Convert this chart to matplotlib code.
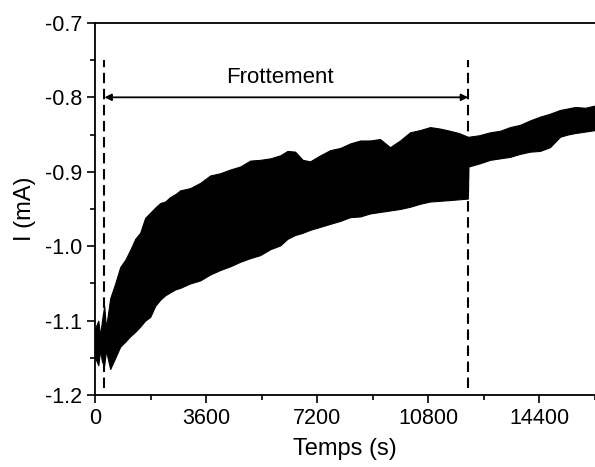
import numpy as np
import matplotlib.pyplot as plt
from matplotlib.ticker import MultipleLocator

plt.rcParams['font.family'] = ['Liberation Sans', 'DejaVu Sans']

# envelope of the oscillating current
t_env = [0, 100, 160, 220, 292, 350, 486, 650, 811, 980, 1135, 1300, 1459, 1620, 1784,
         1950, 2108, 2270, 2432, 2600, 2757, 3080, 3405, 3730, 4054, 4380, 4702, 5030,
         5351, 5680, 6000, 6240, 6486, 6730, 6972, 7300, 7621, 7950, 8270, 8600, 8918,
         9240, 9567, 9890, 10215, 10540, 10864, 11190, 11513, 11800, 12090, 12110, 12450,
         12810, 13130, 13459, 13780, 14108, 14430, 14756, 15080, 15330, 15567, 15900, 16216]
i_upper = [-1.11, -1.10, -1.12, -1.10, -1.08, -1.11, -1.07, -1.05, -1.028, -1.018, -1.005,
           -0.99, -0.982, -0.962, -0.955, -0.948, -0.942, -0.94, -0.934, -0.93, -0.925,
           -0.922, -0.915, -0.905, -0.902, -0.897, -0.893, -0.885, -0.884, -0.882, -0.878,
           -0.872, -0.873, -0.884, -0.886, -0.878, -0.871, -0.868, -0.862, -0.858, -0.858,
           -0.856, -0.867, -0.858, -0.847, -0.844, -0.840, -0.842, -0.845, -0.848, -0.853,
           -0.853, -0.851, -0.847, -0.845, -0.840, -0.837, -0.831, -0.826, -0.822, -0.817,
           -0.815, -0.813, -0.814, -0.811]
i_lower = [-1.15, -1.16, -1.14, -1.155, -1.16, -1.14, -1.165, -1.15, -1.135, -1.128, -1.121,
           -1.115, -1.108, -1.10, -1.095, -1.08, -1.072, -1.066, -1.062, -1.058, -1.056,
           -1.05, -1.046, -1.038, -1.032, -1.027, -1.021, -1.016, -1.012, -1.004, -0.999,
           -0.99, -0.985, -0.982, -0.978, -0.974, -0.970, -0.966, -0.961, -0.960, -0.956,
           -0.954, -0.952, -0.950, -0.947, -0.943, -0.940, -0.939, -0.938, -0.937, -0.936,
           -0.893, -0.889, -0.884, -0.882, -0.880, -0.876, -0.873, -0.872, -0.867, -0.853,
           -0.850, -0.848, -0.846, -0.844]

t_start, t_end = 300, 12100
dash_bottom, dash_top = -1.19, -0.75
label = "Frottement"

fig = plt.figure(figsize=(5.95, 4.67), dpi=100)
ax = fig.add_axes([0.16, 0.154, 0.84, 0.797])

ax.fill_between(t_env, i_lower, i_upper, color='black', linewidth=0.8, edgecolor='black')

for t in (t_start, t_end):
    ax.plot([t, t], [dash_bottom, dash_top], color='black', linestyle=(0, (5, 2.7)), linewidth=1.5)

ax.annotate('', xy=(t_start, -0.8), xytext=(t_end, -0.8),
            arrowprops=dict(arrowstyle='<|-|>', color='black', lw=1.3,
                            shrinkA=0, shrinkB=0, mutation_scale=10))
ax.text((t_start + t_end) / 2 - 200, -0.773, label, ha='center', va='center', fontsize=16)

ax.set_xlim(0, 16216)
ax.set_ylim(-1.2, -0.7)
ax.xaxis.set_major_locator(MultipleLocator(3600))
ax.xaxis.set_minor_locator(MultipleLocator(1800))
ax.yaxis.set_major_locator(MultipleLocator(0.1))
ax.yaxis.set_minor_locator(MultipleLocator(0.05))
ax.yaxis.set_major_formatter(plt.FuncFormatter(lambda v, p: f"{v:.1f}"))
ax.tick_params(which='major', direction='out', length=6, width=1.2, labelsize=15.5)
ax.tick_params(which='minor', direction='out', length=3.5, width=1.2)
for s in ax.spines.values():
    s.set_linewidth(1.3)
ax.spines['right'].set_visible(False)

ax.set_xlabel('Temps (s)', fontsize=17, labelpad=6)
ax.set_ylabel('I (mA)', fontsize=17, labelpad=6)

fig.savefig('out.png', dpi=100)
